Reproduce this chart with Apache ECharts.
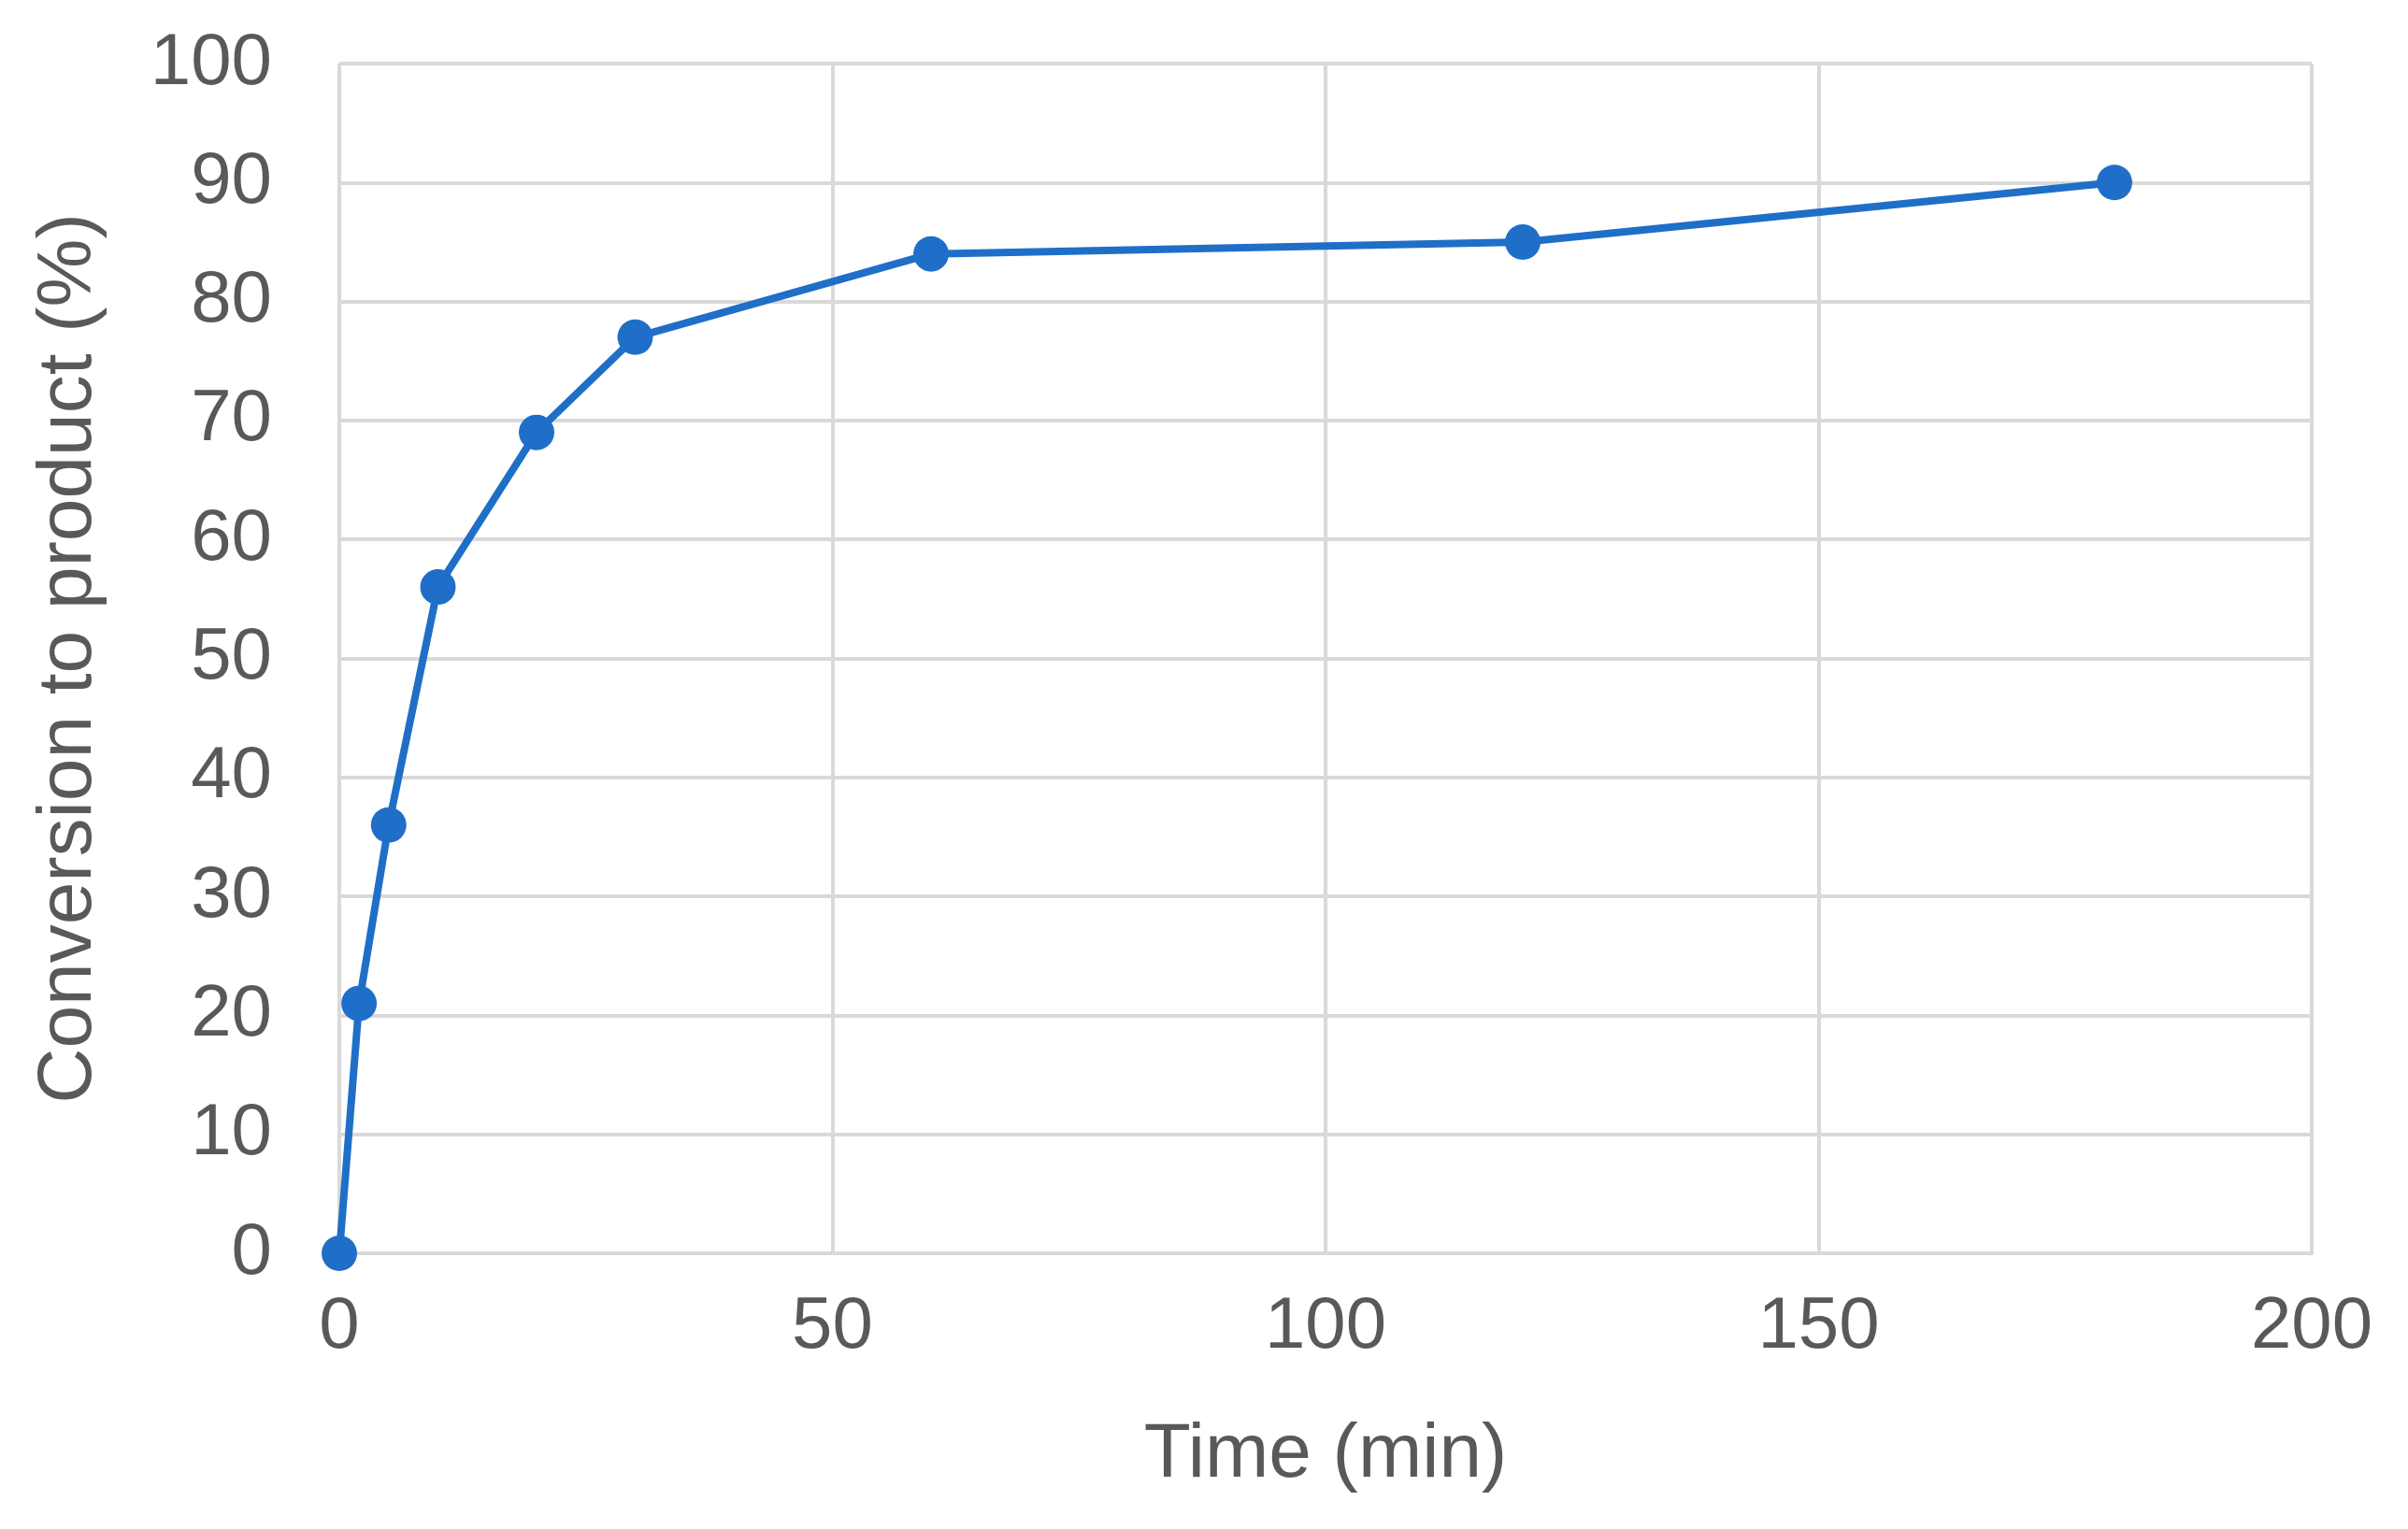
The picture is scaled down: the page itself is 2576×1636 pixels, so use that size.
<!DOCTYPE html>
<html>
<head>
<meta charset="utf-8">
<script src="https://cdn.jsdelivr.net/npm/echarts@6/dist/echarts.min.js"></script>
<style>html,body{margin:0;padding:0;background:#fff}#chart{width:2576px;height:1636px}</style>
</head>
<body>
<div id="chart"></div>
<script>
// time in minutes and conversion in percent
var timeMin = [0, 2, 5, 10, 20, 30, 60, 120, 180];
var conversion = [0, 21, 36, 56, 69, 77, 84, 85, 90];

var points = [];
for (var i = 0; i < timeMin.length; i++) {
    points.push([timeMin[i], conversion[i]]);
}

var textColor = '#595959';
var gridColor = '#d9d9d9';

var chart = echarts.init(document.getElementById('chart'));
chart.setOption({
    animation: false,
    grid: { left: 363, right: 103, top: 68, bottom: 295 },
    xAxis: {
        type: 'value', min: 0, max: 200, interval: 50,
        name: 'Time (min)', nameLocation: 'middle', nameGap: 175,
        nameTextStyle: { color: textColor, fontSize: 82, fontFamily: 'Arial, Liberation Sans' },
        axisLabel: { color: textColor, fontSize: 78, margin: 40, fontFamily: 'Arial, Liberation Sans' },
        axisLine: { lineStyle: { color: gridColor, width: 4 } },
        axisTick: { show: false },
        splitLine: { show: true, lineStyle: { color: gridColor, width: 4 } }
    },
    yAxis: {
        type: 'value', min: 0, max: 100, interval: 10,
        name: 'Conversion to product (%)', nameLocation: 'middle', nameGap: 248,
        nameTextStyle: { color: textColor, fontSize: 82, fontFamily: 'Arial, Liberation Sans' },
        axisLabel: { color: textColor, fontSize: 78, margin: 72, fontFamily: 'Arial, Liberation Sans' },
        axisLine: { show: false },
        axisTick: { show: false },
        splitLine: { show: true, lineStyle: { color: gridColor, width: 4 } }
    },
    series: [{
        type: 'line',
        data: points,
        symbol: 'circle',
        symbolSize: 38,
        lineStyle: { color: '#1f6fc8', width: 8 },
        itemStyle: { color: '#1f6fc8' }
    }]
});
</script>
</body>
</html>
